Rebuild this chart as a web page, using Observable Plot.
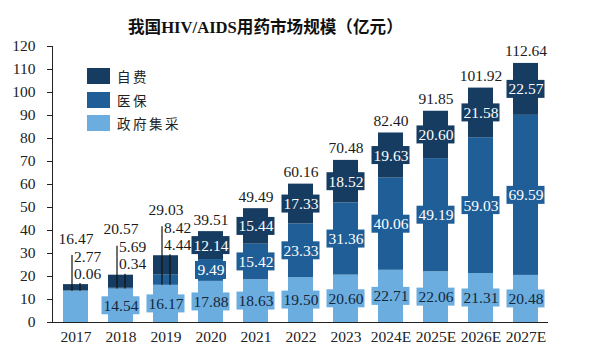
<!DOCTYPE html>
<html>
<head>
<meta charset="utf-8">
<script src="https://cdn.jsdelivr.net/npm/d3@7"></script>
<script src="https://cdn.jsdelivr.net/npm/@observablehq/plot@0.6"></script>
<style>
  body { margin: 0; background: #fff; }
  #wrap { position: relative; width: 589px; height: 357px; overflow: hidden; background: #fff; }
  #title { position: absolute; top: 17px; left: 128px; font-family: "Liberation Serif", "Noto Sans CJK SC", serif; font-weight: bold; font-size: 16.6px; color: #111; white-space: nowrap; line-height: 21px; }
  #legend { position: absolute; left: 87px; top: 68px; font-family: "Noto Sans CJK SC", sans-serif; font-size: 13.5px; color: #222; }
  .li { display: flex; align-items: center; height: 16px; margin-bottom: 7.5px; }
  .sw { width: 23px; height: 16px; margin-right: 7px; }
  .lt { letter-spacing: 2.5px; }
  svg text { font-family: "Liberation Serif", "Times New Roman", serif; }
</style>
</head>
<body>
<div id="wrap">
  <div id="chart"></div>
  <div id="title">我国HIV/AIDS用药市场规模（亿元）</div>
  <div id="legend"></div>
</div>
<script>
const years = ["2017","2018","2019","2020","2021","2022","2023","2024E","2025E","2026E","2027E"];
const seriesNames = ["政府集采", "医保", "自费"];
const govValues = [13.64, 14.54, 16.17, 17.88, 18.63, 19.50, 20.60, 22.71, 22.06, 21.31, 20.48];
const medValues = [0.06, 0.34, 4.44, 9.49, 15.42, 23.33, 31.36, 40.06, 49.19, 59.03, 69.59];
const selfValues = [2.77, 5.69, 8.42, 12.14, 15.44, 17.33, 18.52, 19.63, 20.60, 21.58, 22.57];
const totalValues = [16.47, 20.57, 29.03, 39.51, 49.49, 60.16, 70.48, 82.40, 91.85, 101.92, 112.64];
const yTicks = [0, 10, 20, 30, 40, 50, 60, 70, 80, 90, 100, 110, 120];

const colors = {"自费": "#163d61", "医保": "#1f5e97", "政府集采": "#6badde"};

const W = 589, H = 357, mT = 46, mB = 35, mL = 52, mR = 41;
const unitsPerPx = 120 / (H - mT - mB);
const u = px => px * unitsPerPx;

const rows = [];
years.forEach((yr, i) => {
  const vals = [govValues[i], medValues[i], selfValues[i]];
  let acc = 0;
  vals.forEach((v, k) => {
    rows.push({year: yr, idx: i, series: seriesNames[k], value: v, y1: acc, y2: acc + v, mid: acc + v / 2});
    acc += v;
  });
});
const boxed = rows.filter(d => d.series === "政府集采" ? d.idx >= 1 : d.idx >= 3);
const fmt = v => v.toFixed(2);
const wide = d => fmt(d.value).length >= 5;

const totals = years.map((yr, i) => ({year: yr, idx: i, total: totalValues[i], gov: govValues[i], med: medValues[i], self: selfValues[i]}));
const smallTotals = totals.filter(d => d.idx < 3);
const bigTotals = totals.filter(d => d.idx >= 3);

const boxH = u(9);
const textFont = '"Liberation Serif", "Times New Roman", serif';

const boxMarks = [];
const textMarks = [];
for (const s of seriesNames) {
  const sub = boxed.filter(d => d.series === s);
  for (const [filt, inset] of [[wide, -6.5], [d => !wide(d), -3]]) {
    const part = sub.filter(filt);
    if (!part.length) continue;
    boxMarks.push(Plot.barY(part, {x: "year", y1: d => d.mid - boxH, y2: d => d.mid + boxH, fill: colors[s], insetLeft: inset, insetRight: inset}));
  }
  textMarks.push(Plot.text(sub, {x: "year", y: "mid", text: d => fmt(d.value), fill: s === "政府集采" ? "#15263a" : "#ffffff", fontSize: 15.5, fontFamily: textFont}));
}

const chart = Plot.plot({
  width: W, height: H,
  marginTop: mT, marginBottom: mB, marginLeft: mL, marginRight: mR,
  style: {fontFamily: textFont, fontSize: "15.5px", color: "#222", background: "#fff", overflow: "visible"},
  x: {domain: years, paddingInner: 0.45, paddingOuter: 0.225, label: null, tickSize: 0, tickPadding: 8},
  y: {domain: [0, 120], ticks: yTicks, label: null, tickSize: 5, tickPadding: 12, line: true},
  color: {domain: seriesNames, range: seriesNames.map(s => colors[s])},
  marks: [
    Plot.barY(rows, {x: "year", y1: "y1", y2: "y2", fill: "series"}),
    Plot.ruleY([0], {stroke: "#222", strokeWidth: 1.2}),
    Plot.ruleX(smallTotals, {x: "year", y1: "gov", y2: d => d.total + u(29), dx: -4, stroke: "#111", strokeWidth: 1.2}),
    Plot.ruleX(smallTotals, {x: "year", y1: "gov", y2: d => d.total + u(1), dx: 4, stroke: "#111", strokeWidth: 1.2}),
    ...boxMarks,
    ...textMarks,
    Plot.text(bigTotals, {x: "year", y: "total", text: d => fmt(d.total), dy: -12, fill: "#1a1a1a", fontSize: 15.5, fontFamily: textFont}),
    Plot.text(smallTotals, {x: "year", y: "total", text: d => fmt(d.total), dy: -46, fill: "#1a1a1a", fontSize: 15.5, fontFamily: textFont}),
    Plot.text(smallTotals, {x: "year", y: "total", text: d => fmt(d.self), dy: -28, dx: -2, textAnchor: "start", fill: "#1a1a1a", fontSize: 15.5, fontFamily: textFont}),
    Plot.text(smallTotals, {x: "year", y: "total", text: d => fmt(d.med), dy: -11, dx: -2, textAnchor: "start", fill: "#1a1a1a", fontSize: 15.5, fontFamily: textFont})
  ]
});
document.getElementById("chart").appendChild(chart);

const legend = document.getElementById("legend");
for (const s of ["自费", "医保", "政府集采"]) {
  const li = document.createElement("div");
  li.className = "li";
  li.innerHTML = `<div class="sw" style="background:${colors[s]}"></div><span class="lt">${s}</span>`;
  legend.appendChild(li);
}
</script>
</body>
</html>
